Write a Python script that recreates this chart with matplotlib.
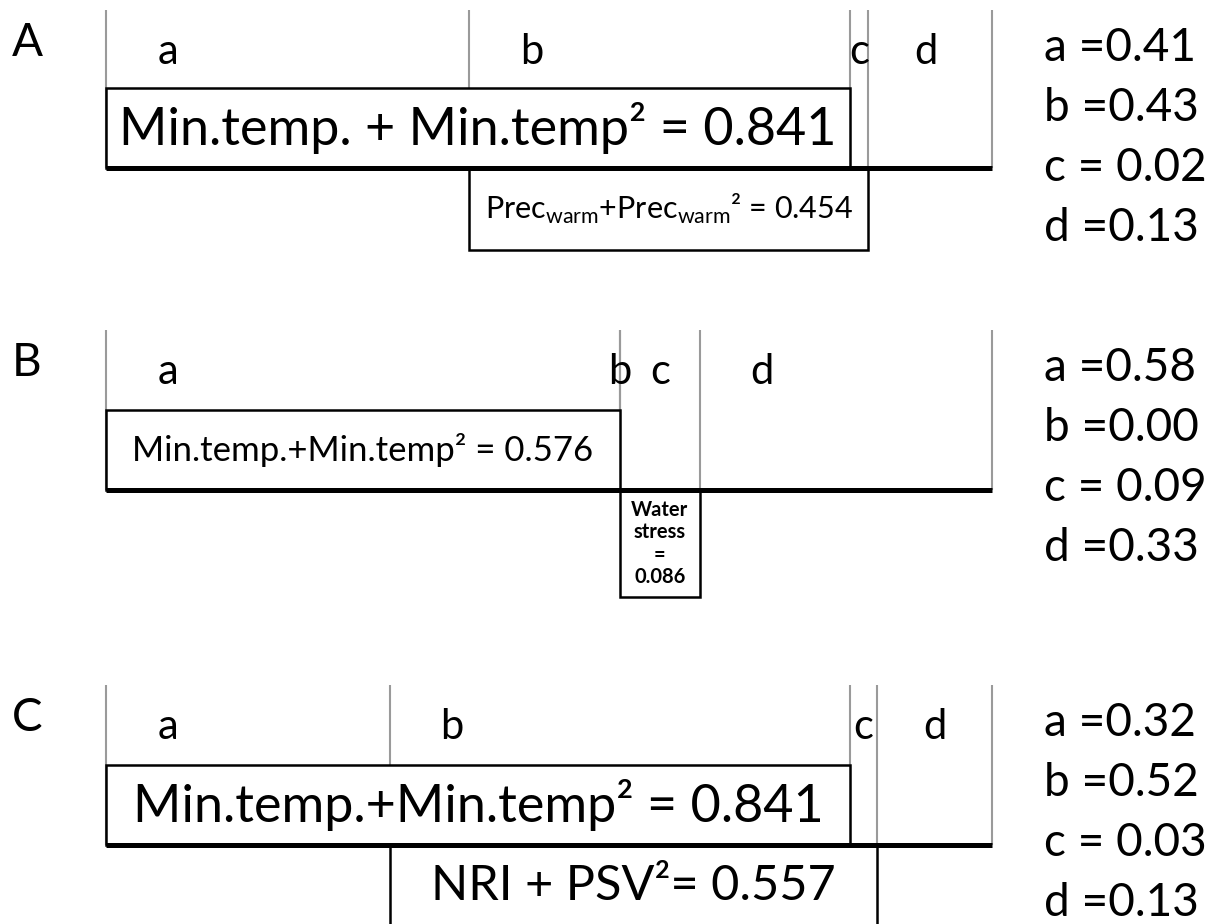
import matplotlib
matplotlib.use("Agg")
import matplotlib.pyplot as plt
from matplotlib.patches import Rectangle

plt.rcParams['font.family'] = ['Lato', 'DejaVu Sans']

# variance partition fractions per panel
panel_names = ["A", "B", "C"]
fractions_A = [0.41, 0.43, 0.02, 0.13]
fractions_B = [0.58, 0.00, 0.09, 0.33]
fractions_C = [0.32, 0.52, 0.03, 0.13]
value_labels_A = ["a =0.41", "b =0.43", "c = 0.02", "d =0.13"]
value_labels_B = ["a =0.58", "b =0.00", "c = 0.09", "d =0.33"]
value_labels_C = ["a =0.32", "b =0.52", "c = 0.03", "d =0.13"]
box1_labels = ["Min.temp. + Min.temp² = 0.841",
               "Min.temp.+Min.temp² = 0.576",
               "Min.temp.+Min.temp² = 0.841"]
box2_labels = ["Prec$_{\\mathregular{warm}}$+Prec$_{\\mathregular{warm}}$² = 0.454",
               "Water\nstress\n=\n0.086",
               "NRI + PSV²= 0.557"]
parts = ["a", "b", "c", "d"]

fractions = [fractions_A, fractions_B, fractions_C]
value_labels = [value_labels_A, value_labels_B, value_labels_C]

W, H = 1215, 924
fig = plt.figure(figsize=(W / 100, H / 100), dpi=100)

# layout in pixels: panel top, box1 top, thick line, box2 bottom
tops = [10, 330, 685]
box1_off = [78, 80, 80]
line_off = [158, 160, 160]
box2_off = [240, 267, 245]
box1_size = [37.5, 25, 37.5]
box2_size = [22, 14.5, 35]
box2_weight = ["normal", "bold", "normal"]
x0_px, x1_px = 106, 992

for i, name in enumerate(panel_names):
    top = tops[i]
    hgt = box2_off[i]
    bottom = top + hgt
    ax = fig.add_axes([x0_px / W, 1 - min(bottom, H) / H, (x1_px - x0_px) / W,
                       (min(bottom, H) - top) / H])
    ax.set_xlim(0, 1)
    ax.set_ylim(min(bottom, H) - top, 0)
    ax.axis("off")

    fr = fractions[i]
    cum = [0]
    for f in fr[:-1]:
        cum.append(cum[-1] + f)
    bounds = cum + [1.0]
    ly = line_off[i]
    b1 = box1_off[i]

    # grey partition lines
    for bx in bounds:
        ax.plot([bx, bx], [0, ly], color="#9a9a9a", lw=1.5, zorder=1,
                solid_capstyle="butt", clip_on=False)

    # first predictor box (a + b)
    ax.add_patch(Rectangle((0, b1), cum[2], ly - b1, facecolor="white",
                           edgecolor="black", lw=1.8, zorder=2, clip_on=False))
    ax.text(cum[2] / 2, (b1 + ly) / 2, box1_labels[i], ha="center", va="center",
            fontsize=box1_size[i], zorder=3)

    # second predictor box (b + c)
    b2_bottom = hgt if bottom <= H else hgt + 20
    ax.add_patch(Rectangle((cum[1], ly), cum[3] - cum[1], b2_bottom - ly,
                           facecolor="white", edgecolor="black", lw=1.8,
                           zorder=2, clip_on=False))
    ax.text((cum[1] + cum[3]) / 2, (ly + min(hgt, H - top)) / 2 + (2 if i == 2 else 0),
            box2_labels[i], ha="center", va="center", fontsize=box2_size[i],
            fontweight=box2_weight[i], linespacing=1.15, zorder=3)

    # thick baseline
    ax.plot([0, 1], [ly, ly], color="black", lw=3.6, zorder=4,
            solid_capstyle="butt", clip_on=False)

    # part letters
    for j, p in enumerate(parts):
        lx = cum[j] + min(fr[j] / 2, 0.07)
        ax.text(lx, 42, p, ha="center", va="center", fontsize=30, zorder=3)

    # panel letter
    fig.text(12 / W, 1 - (top + 33) / H, name, ha="left", va="center", fontsize=33)

    # values on the right
    for j, vl in enumerate(value_labels[i]):
        fig.text(1044 / W, 1 - (top + 38 + 60 * j) / H, vl, ha="left",
                 va="center", fontsize=33)

fig.savefig("out.png", dpi=100)
